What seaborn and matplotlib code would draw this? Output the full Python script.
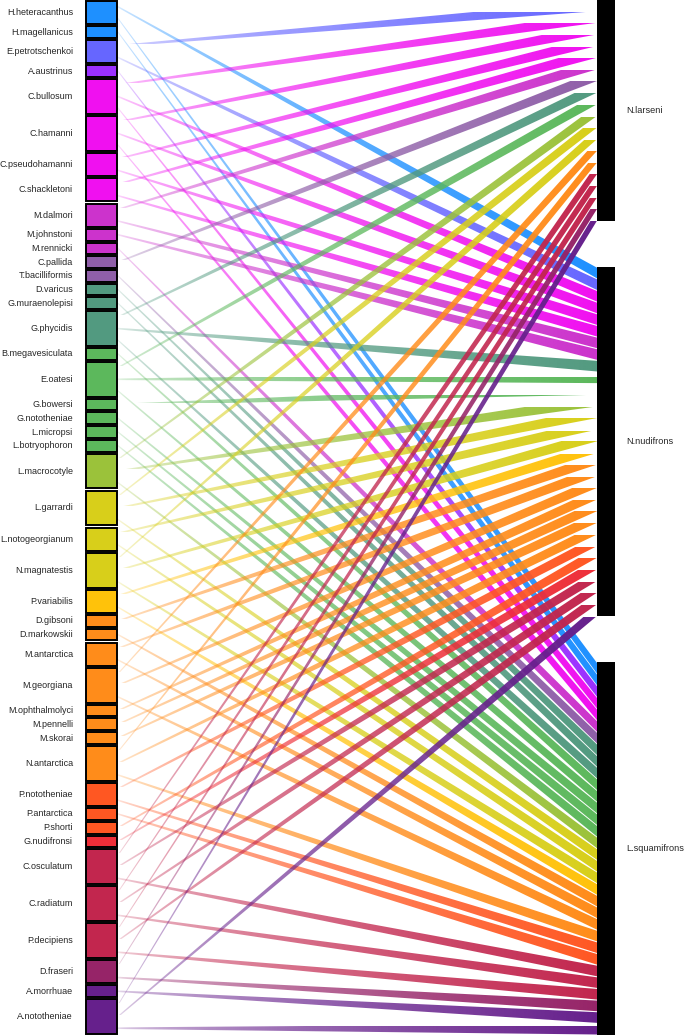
import numpy as np
import matplotlib as mpl
mpl.use('Agg')
import matplotlib.pyplot as plt
from matplotlib.patches import Polygon, Rectangle
from matplotlib.colors import to_rgb
import seaborn as sns

################################################################################
# DATA
################################################################################

parasites = [
    'H.heteracanthus', 'H.magellanicus', 'E.petrotschenkoi', 'A.austrinus',
    'C.bullosum', 'C.hamanni', 'C.pseudohamanni', 'C.shackletoni',
    'M.dalmori', 'M.johnstoni', 'M.rennicki', 'C.pallida', 'T.bacilliformis',
    'D.varicus', 'G.muraenolepisi', 'G.phycidis', 'B.megavesiculata',
    'E.oatesi', 'G.bowersi', 'G.nototheniae', 'L.micropsi', 'L.botryophoron',
    'L.macrocotyle', 'L.garrardi', 'L.notogeorgianum', 'N.magnatestis',
    'P.variabilis', 'D.gibsoni', 'D.markowskii', 'M.antarctica',
    'M.georgiana', 'M.ophthalmolyci', 'M.pennelli', 'M.skorai',
    'N.antarctica', 'P.nototheniae', 'P.antarctica', 'P.shorti',
    'G.nudifronsi', 'C.osculatum', 'C.radiatum', 'P.decipiens',
    'D.fraseri', 'A.morrhuae', 'A.nototheniae',
]

parasite_colors = [
    '#1E90FF', '#1E90FF', '#6666FF', '#9B30FF',
    '#F010F0', '#F010F0', '#F010F0', '#F010F0',
    '#CC33CC', '#CC33CC', '#CC33CC', '#8F5FA8', '#8F5FA8',
    '#529A80', '#529A80', '#529A80', '#5CB85C',
    '#5CB85C', '#5CB85C', '#5CB85C', '#5CB85C', '#5CB85C',
    '#9BC23A', '#D8CF1A', '#D8CF1A', '#D8CF1A',
    '#FFC20A', '#FF8C1A', '#FF8C1A', '#FF8C1A',
    '#FF8C1A', '#FF8C1A', '#FF8C1A', '#FF8C1A',
    '#FF8C1A', '#FF5722', '#FF5722', '#FF5722',
    '#EE2E38', '#C2264E', '#C2264E', '#C2264E',
    '#962468', '#66208C', '#66208C',
]

hosts = ['N.larseni', 'N.nudifrons', 'L.squamifrons']

larseni_links = [
    'E.petrotschenkoi', 'C.bullosum', 'C.hamanni', 'C.pseudohamanni',
    'C.shackletoni', 'M.dalmori', 'C.pallida', 'G.phycidis', 'E.oatesi',
    'L.macrocotyle', 'L.garrardi', 'N.magnatestis', 'M.georgiana',
    'N.antarctica', 'C.osculatum', 'C.radiatum', 'P.decipiens',
    'D.fraseri', 'A.nototheniae',
]

nudifrons_links = [
    'H.heteracanthus', 'E.petrotschenkoi', 'C.bullosum', 'C.hamanni',
    'C.pseudohamanni', 'C.shackletoni', 'M.dalmori', 'M.johnstoni',
    'G.phycidis', 'E.oatesi', 'G.bowersi', 'L.macrocotyle', 'L.garrardi',
    'L.notogeorgianum', 'N.magnatestis', 'P.variabilis', 'D.gibsoni',
    'M.antarctica', 'M.georgiana', 'M.ophthalmolyci', 'M.pennelli',
    'M.skorai', 'N.antarctica', 'P.nototheniae', 'P.shorti',
    'G.nudifronsi', 'C.osculatum', 'C.radiatum', 'P.decipiens',
    'A.nototheniae',
]

squamifrons_links = [
    'H.heteracanthus', 'H.magellanicus', 'A.austrinus', 'C.bullosum',
    'C.hamanni', 'M.rennicki', 'T.bacilliformis', 'D.varicus',
    'G.muraenolepisi', 'G.phycidis', 'B.megavesiculata', 'E.oatesi',
    'G.nototheniae', 'L.micropsi', 'L.botryophoron', 'L.macrocotyle',
    'L.garrardi', 'L.notogeorgianum', 'N.magnatestis', 'P.variabilis',
    'D.markowskii', 'M.antarctica', 'M.georgiana', 'N.antarctica',
    'P.nototheniae', 'P.antarctica', 'C.osculatum', 'C.radiatum',
    'P.decipiens', 'D.fraseri', 'A.morrhuae', 'A.nototheniae',
]

host_links = [larseni_links, nudifrons_links, squamifrons_links]

################################################################################
# LAYOUT
################################################################################

W, H = 685, 1035
left_x0, left_x1 = 86, 117
right_x0, right_x1 = 597, 615
left_gap = 2.1
right_gap = 46.0

# links of each parasite, in host order
par_links = {p: [h for h, links in zip(hosts, host_links) if p in links] for p in parasites}
par_size = [len(par_links[p]) for p in parasites]
host_size = [len(links) for links in host_links]

left_unit = (H - 2 - left_gap * (len(parasites) - 1)) / sum(par_size)
right_unit = (H - right_gap * (len(hosts) - 1)) / sum(host_size)

left_top = {}
y = 1.0
for p, n in zip(parasites, par_size):
    left_top[p] = y
    y += n * left_unit + left_gap

right_top = {}
y = 0.0
for h, n in zip(hosts, host_size):
    right_top[h] = y
    y += n * right_unit + right_gap

################################################################################
# PLOT
################################################################################

sns.set_theme(style='white')
plt.rcParams['font.family'] = ['Liberation Sans', 'DejaVu Sans']

fig = plt.figure(figsize=(W / 100, H / 100), dpi=100)
ax = fig.add_axes([0, 0, 1, 1])
ax.set_xlim(0, W)
ax.set_ylim(H, 0)
ax.axis('off')

# fade links in from the parasite side
ncol = 256
alpha = 0.15 + 0.85 * np.sqrt(np.linspace(0.0, 1.0, ncol))
color_of = dict(zip(parasites, parasite_colors))

for p in parasites:
    rgb = to_rgb(color_of[p])
    grad = np.zeros((1, ncol, 4))
    grad[0, :, :3] = rgb
    grad[0, :, 3] = alpha
    for k, h in enumerate(par_links[p]):
        yl = left_top[p] + (k + 0.5) * left_unit
        j = host_links[hosts.index(h)].index(p)
        yr0 = right_top[h] + j * right_unit + 0.5
        yr1 = right_top[h] + (j + 1) * right_unit - 0.5
        wl = 0.8
        poly = Polygon([(left_x1 + 1, yl - wl), (right_x0, yr0),
                        (right_x0, yr1), (left_x1 + 1, yl + wl)],
                       closed=True, facecolor='none', edgecolor='none')
        ax.add_patch(poly)
        im = ax.imshow(grad, extent=(left_x1 + 1, right_x0, yr1 + 1, yl - wl - 1),
                       aspect='auto', interpolation='bilinear', zorder=2)
        im.set_clip_path(poly)

for p, n in zip(parasites, par_size):
    top = left_top[p]
    hgt = n * left_unit
    ax.add_patch(Rectangle((left_x0, top), left_x1 - left_x0, hgt,
                           facecolor=color_of[p], edgecolor='black',
                           linewidth=1.4, zorder=3))
    ax.text(73, top + hgt / 2, p, ha='right', va='center', fontsize=6.5)

for h, n in zip(hosts, host_size):
    top = right_top[h]
    hgt = n * right_unit
    ax.add_patch(Rectangle((right_x0, top), right_x1 - right_x0, hgt,
                           facecolor='black', edgecolor='none', zorder=3))
    ax.text(626, top + hgt / 2, h, ha='left', va='center', fontsize=6.6)

fig.savefig('out.png', dpi=100)
